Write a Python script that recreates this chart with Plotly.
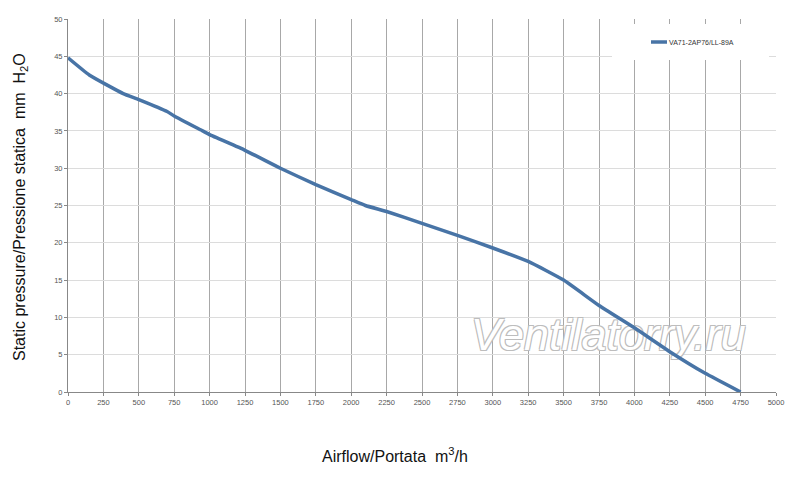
import plotly.graph_objects as go

# Data
airflow = [0, 150, 390, 500, 700, 750, 950, 1000, 1250, 1500, 1750, 2000, 2100,
           2250, 2500, 2750, 3000, 3250, 3500, 3750, 4000, 4250, 4500, 4750]
pressure = [44.8, 42.5, 40.0, 39.2, 37.6, 37.0, 35.0, 34.5, 32.4, 30.0, 27.8, 25.8, 25.0,
            24.2, 22.6, 21.0, 19.3, 17.5, 15.0, 11.6, 8.6, 5.4, 2.5, 0.0]
series_name = "VA71-2AP76/LL-89A"
x_ticks = list(range(0, 5001, 250))
y_ticks = list(range(0, 51, 5))

LINE_COLOR = "#4874A6"
OFF = 8  # page body margin
W, H = 800 - OFF, 479 - OFF
L, T = 68 - OFF, 19 - OFF
R = 24
B = H - T - 373
pw = W - L - R
ph = H - T - B

def px_x(p):  # page pixel -> paper
    return (p - OFF - L) / pw

def px_y(p):
    return (T + ph - (p - OFF)) / ph

fig = go.Figure()

# watermark (drawn beneath the curve)
fig.add_trace(go.Scatter(
    x=[3815], y=[7.1], mode="text", text=["Ventilatorry.ru"],
    textposition="middle center", hoverinfo="skip", showlegend=False,
    textfont=dict(family="Liberation Sans", size=45, style="italic", color="white",
                  shadow="-1px -1px 0 #bdbdbd, 1px -1px 0 #bdbdbd, -1px 1px 0 #bdbdbd, 1px 1px 0 #bdbdbd"),
))

fig.add_trace(go.Scatter(
    x=airflow, y=pressure, mode="lines", name=series_name,
    line=dict(color=LINE_COLOR, width=3.5, shape="spline", smoothing=0.4),
    showlegend=False,
))

fig.update_layout(
    width=W, height=H,
    margin=dict(l=L, r=R, t=T, b=B, autoexpand=False),
    paper_bgcolor="white", plot_bgcolor="white",
    font=dict(family="Liberation Sans", color="#555"),
    xaxis=dict(range=[0, 5000], tickvals=x_ticks, ticktext=[str(v) for v in x_ticks],
               showgrid=True, gridcolor="#a8a8a8", gridwidth=1,
               showline=True, linecolor="#888", linewidth=1,
               ticks="outside", ticklen=3, tickcolor="#888",
               tickfont=dict(size=7.5, color="#555"), zeroline=False),
    yaxis=dict(range=[0, 50], tickvals=y_ticks, ticktext=[str(v) for v in y_ticks],
               showgrid=True, gridcolor="#dcdcdc", gridwidth=1,
               showline=True, linecolor="#888", linewidth=1,
               ticks="outside", ticklen=3, tickcolor="#888",
               tickfont=dict(size=7.5, color="#555"), zeroline=False),
    showlegend=False,
)

# manual legend box
fig.add_shape(type="rect", xref="paper", yref="paper",
              x0=px_x(612), x1=px_x(769), y0=px_y(60), y1=px_y(24),
              fillcolor="white", line=dict(width=0), layer="above")
fig.add_shape(type="line", xref="paper", yref="paper",
              x0=px_x(651), x1=px_x(667), y0=px_y(42), y1=px_y(42),
              line=dict(color=LINE_COLOR, width=3.5), layer="above")
fig.add_annotation(xref="paper", yref="paper", x=px_x(667), y=px_y(42),
                   text=series_name, showarrow=False, xanchor="left", yanchor="middle",
                   font=dict(family="Liberation Sans", size=7, color="#333"))

# axis titles
fig.add_annotation(xref="paper", yref="paper", x=px_x(20), y=px_y(207),
                   text="Static pressure/Pressione statica  mm  H<sub>2</sub>O",
                   textangle=-90, showarrow=False, xanchor="center", yanchor="middle",
                   font=dict(family="Liberation Sans", size=16, color="#111"))
fig.add_annotation(xref="paper", yref="paper", x=px_x(395), y=px_y(455),
                   text="Airflow/Portata  m<sup>3</sup>/h",
                   showarrow=False, xanchor="center", yanchor="middle",
                   font=dict(family="Liberation Sans", size=16, color="#111"))

fig.write_html("out.html")
